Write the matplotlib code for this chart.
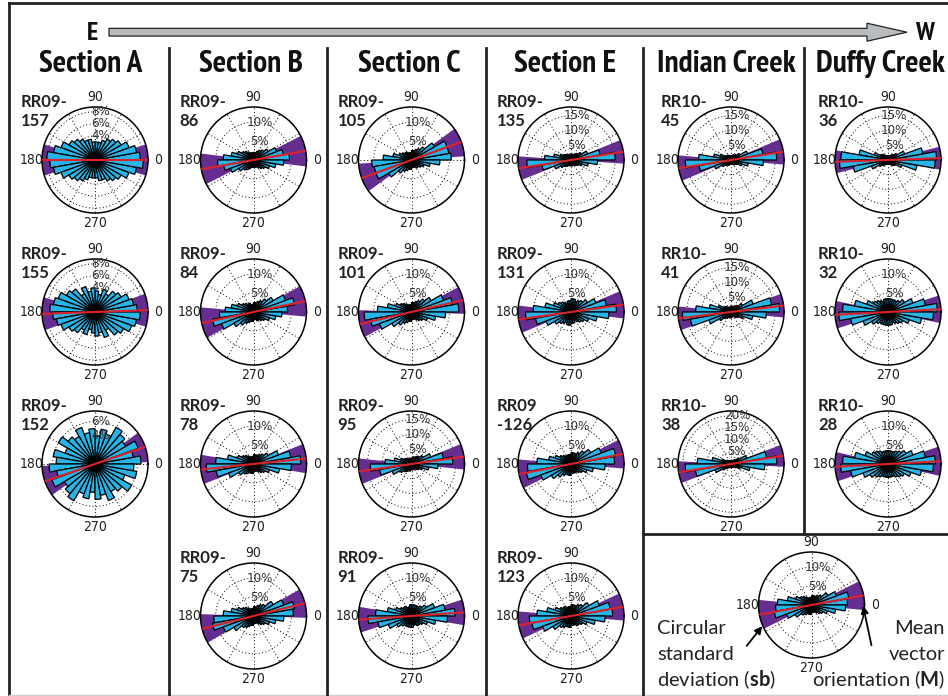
import numpy as np
import matplotlib.pyplot as plt
from matplotlib import font_manager as fm
from matplotlib.patches import FancyArrow
from matplotlib import transforms

plt.rcParams['mathtext.fontset'] = 'custom'
plt.rcParams['mathtext.rm'] = 'Lato'
plt.rcParams['mathtext.bf'] = 'Lato:bold'

# bin centres (deg) for the 0-180 half; axial data is mirrored onto 180-360
bin_centres = np.arange(5, 180, 10)

# percent of clasts per 10 degree bin
rr09_157 = [7.5, 7, 6, 5, 4.5, 4, 3.5, 3, 3, 3, 3.5, 3.5, 4, 4.5, 5, 6, 7, 8]
rr09_155 = [7, 6.5, 6, 5, 4.5, 3.5, 4, 3, 3.5, 4, 3.5, 4.5, 3.5, 5, 5.5, 6.5, 7, 7.5]
rr09_152 = [6.5, 5.5, 6.5, 5, 5.5, 6, 4.5, 5, 4, 5, 4.5, 5.5, 4.5, 5, 6, 4.5, 6, 5.5]
rr09_86 = [9.5, 8, 6.5, 4.5, 3.5, 3, 2.5, 2, 2, 2, 2, 2, 2.5, 3, 3.5, 4.5, 6, 8]
rr09_84 = [9, 11, 9, 6, 4.5, 3.5, 3, 2.5, 2.5, 2, 2, 2.5, 2.5, 3, 3.5, 4.5, 6, 7.5]
rr09_78 = [12.5, 10, 7, 4.5, 3.5, 3, 2.5, 2.5, 2.5, 2, 2, 2, 2.5, 3, 3.5, 4.5, 7, 10]
rr09_75 = [10.5, 11, 8.5, 6, 4, 3.5, 3, 2.5, 2.5, 2, 2, 2, 2.5, 3, 3.5, 4.5, 6, 8]
rr09_105 = [10.5, 10, 10, 7, 4.5, 3.5, 3, 2.5, 2.5, 2, 2, 2, 2.5, 2.5, 3, 3.5, 5, 7.5]
rr09_101 = [12.5, 11, 9, 6, 4.5, 3.5, 3, 2.5, 2.5, 2, 2, 2, 2.5, 3, 3.5, 4.5, 6.5, 9]
rr09_95 = [14, 11, 7, 4.5, 3.5, 3, 2.5, 2.5, 2, 2, 2, 2, 2, 2.5, 3, 4, 6, 9]
rr09_91 = [11.5, 9, 6.5, 4.5, 3.5, 3, 3, 3, 3, 3, 2.5, 2.5, 3, 3, 3.5, 4.5, 6.5, 9.5]
rr09_135 = [15, 10, 6, 4, 3, 2.5, 2, 2, 2, 2, 2, 2, 2, 2.5, 3, 4, 6, 9]
rr09_131 = [12, 9.5, 7, 5, 4, 3.5, 3, 3.5, 3.5, 3, 3, 2.5, 3, 3.5, 4, 5, 7, 10]
rr09_126 = [11.5, 12, 8.5, 6, 4.5, 3.5, 3, 3, 3, 2.5, 2.5, 2.5, 2.5, 3, 3.5, 4.5, 6, 9]
rr09_123 = [11, 10.5, 8, 5.5, 4, 3.5, 3, 3, 3, 2.5, 2.5, 2.5, 3, 3, 3.5, 4.5, 6.5, 9]
rr10_45 = [15.5, 11, 6, 3.5, 2.5, 2, 2, 1.5, 1.5, 1.5, 1.5, 1.5, 2, 2, 2.5, 4, 6, 11]
rr10_41 = [16.5, 14, 8, 4.5, 3, 2.5, 2, 2, 2, 2, 1.5, 1.5, 2, 2.5, 3, 4.5, 7.5, 12]
rr10_38 = [19, 15, 7, 4, 2.5, 2, 1.5, 1.5, 1.5, 1.5, 1.5, 1.5, 1.5, 2, 2.5, 4, 8, 14]
rr10_36 = [16.5, 12, 6, 3.5, 2.5, 2, 1.5, 1.5, 1.5, 1.5, 1.5, 1.5, 2, 2.5, 3, 5, 10, 16]
rr10_32 = [13, 10, 7, 5, 4, 3.5, 3.5, 3.5, 3.5, 3.5, 3.5, 3, 3.5, 4, 4.5, 6, 9, 12]
rr10_28 = [12.5, 10, 7, 5.5, 4.5, 4, 3.5, 3.5, 3.5, 3.5, 3.5, 3.5, 4, 4.5, 5, 6.5, 9, 12]
example = [9.5, 10, 7, 5, 3.5, 3, 2.5, 2.5, 2.5, 2, 2, 2, 2.5, 3, 3.5, 4.5, 6.5, 9]

sample_names = ['RR09-\n157', 'RR09-\n155', 'RR09-\n152',
                'RR09-\n86', 'RR09-\n84', 'RR09-\n78', 'RR09-\n75',
                'RR09-\n105', 'RR09-\n101', 'RR09-\n95', 'RR09-\n91',
                'RR09-\n135', 'RR09-\n131', 'RR09\n-126', 'RR09-\n123',
                'RR10-\n45', 'RR10-\n41', 'RR10-\n38',
                'RR10-\n36', 'RR10-\n32', 'RR10-\n28', '']
bar_pct = [rr09_157, rr09_155, rr09_152,
           rr09_86, rr09_84, rr09_78, rr09_75,
           rr09_105, rr09_101, rr09_95, rr09_91,
           rr09_135, rr09_131, rr09_126, rr09_123,
           rr10_45, rr10_41, rr10_38,
           rr10_36, rr10_32, rr10_28, example]
# mean vector orientation and circular standard deviation (deg)
mean_dir = [0, 2, 19, 10, 12, 6, 14, 20, 13, 8, 4, 9, 8, 11, 10, 9, 7, 9, 2, 3, 3, 10.5]
circ_sd = [17, 18, 17, 17, 17, 16, 16, 16, 15, 14, 14, 13, 15, 16, 15, 14, 13, 12, 12.5, 15, 16, 16]
# highest labelled ring (%)
ring_top = [8, 8, 6, 10, 10, 10, 10, 10, 10, 15, 10, 15, 10, 10, 10, 15, 15, 20, 15, 10, 10, 10]

sections = ['Section A', 'Section B', 'Section C', 'Section E', 'Indian Creek', 'Duffy Creek']
col_x = [95, 253.5, 411.5, 571, 731, 888]
row_y = [160, 312, 464, 616]
head_x = [91, 251, 409, 565, 726, 880]
grid_pos = [(0, 0), (0, 1), (0, 2),
            (1, 0), (1, 1), (1, 2), (1, 3),
            (2, 0), (2, 1), (2, 2), (2, 3),
            (3, 0), (3, 1), (3, 2), (3, 3),
            (4, 0), (4, 1), (4, 2),
            (5, 0), (5, 1), (5, 2)]

PURPLE = '#662d91'
CYAN = '#27b4e6'
RED = '#dc2229'
rmax_for = {6: 7.5, 8: 8.8, 10: 14, 15: 18, 20: 22}
step_for = {6: 2, 8: 2, 10: 5, 15: 5, 20: 5}


def narrow_font(bold, order=('condensed', 'semi-condensed', 'extra-condensed')):
    """Pick an installed narrow/condensed sans face, falling back to DejaVu."""
    best, best_score = None, None
    for f in fm.fontManager.ttflist:
        if f.style != 'normal':
            continue
        w = f.weight if isinstance(f.weight, (int, float)) else fm.weight_dict.get(f.weight, 400)
        if bold and not (600 <= w <= 750):
            continue
        if not bold and not (350 <= w <= 450):
            continue
        st = str(f.stretch)
        if 'Narrow' in f.name:
            rank = 0
        elif st in order:
            rank = order.index(st)
        else:
            continue
        score = (rank, -w, 0 if 'Liberation' in f.name else 1)
        if best_score is None or score < best_score:
            best, best_score = f.fname, score
    if best is None:
        return fm.FontProperties(family='DejaVu Sans', weight='bold' if bold else 'normal')
    return fm.FontProperties(fname=best)


NB = narrow_font(True)
NX = narrow_font(True, ('extra-condensed', 'condensed', 'semi-condensed'))
NR = narrow_font(False)


def fp(base_fp, size):
    p = base_fp.copy()
    p.set_size(size)
    return p


W, H = 948, 696
fig = plt.figure(figsize=(W / 100, H / 100), dpi=100)
base = fig.add_axes([0, 0, 1, 1])
base.set_xlim(0, W)
base.set_ylim(H, 0)
base.axis('off')

# frame and panel dividers
base.plot([9, 9], [3, H], color='#222', lw=2)
base.plot([9, W], [3, 3], color='#222', lw=2)
base.plot([9, W], [694.5, 694.5], color='#cfcfcf', lw=1)
for x in [169, 327, 486, 643]:
    base.plot([x, x], [48, H], color='#222', lw=2)
base.plot([804, 804], [48, 534], color='#222', lw=2)
base.plot([643, W], [534, 534], color='#222', lw=2)

# east-west arrow
base.add_patch(FancyArrow(109, 32.2, 798, 0, width=7.7, head_width=18, head_length=40,
                          length_includes_head=True, fc='#b9bcbf', ec='#222', lw=0.9))
base.text(93, 33, 'E', ha='center', va='center', fontproperties=fp(NX, 19), color='#111')
base.text(924, 33, 'W', ha='center', va='center', fontproperties=fp(NX, 19), color='#111')

# column headings, sized so the longest one fits its panel
renderer = fig.canvas.get_renderer()
probe = base.text(0, 0, 'Indian Creek', fontproperties=fp(NX, 20))
head_size = min(23, 20 * 138 / probe.get_window_extent(renderer).width)
probe.remove()
for x, name in zip(head_x, sections):
    base.text(x, 64, name, ha='center', va='center', fontproperties=fp(NX, head_size),
              color='#111')


def rose(cx, cy, pct, mean, sd, top, name):
    R = 53
    rmax = rmax_for[top]
    step = step_for[top]
    ax = fig.add_axes([(cx - R) / W, 1 - (cy + R) / H, 2 * R / W, 2 * R / H],
                      projection='polar')
    ax.set_axisbelow(True)
    m, s = np.deg2rad(mean), np.deg2rad(sd)
    ax.bar([m, m + np.pi], [rmax, rmax], width=2 * s, color=PURPLE, edgecolor='none', zorder=1)
    th = np.deg2rad(np.concatenate([bin_centres, bin_centres + 180]))
    ax.bar(th, np.concatenate([pct, pct]), width=np.deg2rad(10), color=CYAN,
           edgecolor='black', linewidth=0.9, zorder=2)
    ax.plot([m, m, m + np.pi], [rmax, 0, rmax], color=RED, lw=1.5, zorder=3)
    ax.set_ylim(0, rmax)
    rings = np.arange(step, rmax, step)
    ax.set_rgrids(rings, labels=[''] * len(rings))
    ax.set_thetagrids(np.arange(0, 360, 30),
                      labels=['0', '', '', '90', '', '', '180', '', '', '270', '', ''],
                      fontproperties=fp(NR, 10), color='#222')
    ax.tick_params(axis='x', pad=-3)
    ax.grid(True, color='black', linestyle=(0, (1, 2.5)), linewidth=0.7)
    ax.spines['polar'].set_linewidth(1.1)
    shift = transforms.offset_copy(ax.transData, fig=fig, x=6, y=0, units='dots')
    for v in rings:
        if v >= 4:
            ax.text(np.pi / 2, v, f'{v:g}%', transform=shift, ha='center', va='center',
                    fontproperties=fp(NR, 9.5), color='#333', zorder=4)
    if name:
        dx = -70 if cx > 700 else -74
        base.text(cx + dx, cy - 66, name, ha='left', va='top', fontsize=12,
                  fontweight='bold', family='Lato', color='#222', linespacing=1.2)
    return ax


for (c, r), name, pct, mu, sd, top in zip(grid_pos, sample_names, bar_pct, mean_dir,
                                          circ_sd, ring_top):
    rose(col_x[c], row_y[r], pct, mu, sd, top, name)

# worked example with annotations
rose(811.5, 605, bar_pct[-1], mean_dir[-1], circ_sd[-1], ring_top[-1], '')

over = fig.add_axes([0, 0, 1, 1])
over.set_xlim(0, W)
over.set_ylim(H, 0)
over.axis('off')
over.patch.set_alpha(0)
for i, line in enumerate(['Circular', 'standard', r'deviation ($\mathbf{sb}$)']):
    over.text(657, 628 + 26 * i, line, ha='left', va='center', fontsize=14.5,
              family='Lato', color='#222')
for i, line in enumerate(['Mean', 'vector', r'orientation ($\mathbf{M}$)']):
    over.text(945, 628 + 26 * i, line, ha='right', va='center', fontsize=14.5,
              family='Lato', color='#222')
over.annotate('', xy=(764, 624), xytext=(745, 648),
              arrowprops=dict(arrowstyle='-|>', color='black', lw=1.3, mutation_scale=11))
over.annotate('', xy=(862.5, 603), xytext=(872, 648),
              arrowprops=dict(arrowstyle='-|>', color='black', lw=1.3, mutation_scale=11))

fig.savefig('out.png', dpi=100)
